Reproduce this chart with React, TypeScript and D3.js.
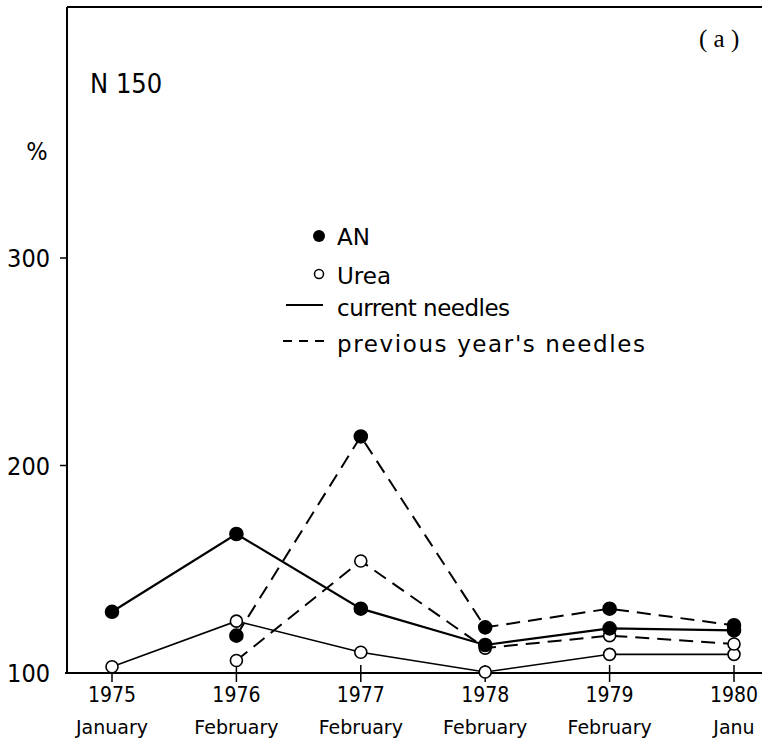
import React from "react";
import * as d3 from "d3";

// sampling dates
const years = ["1975", "1976", "1977", "1978", "1979", "1980"];
const months = ["January", "February", "February", "February", "February", "Janu"];
const yTicks = [100, 200, 300];

// % values, null = not measured
const anCurrent = [129.5, 167, 131, 113.5, 121.5, 120.5];
const anPrevious = [null, 118, 214, 122, 131, 123];
const ureaCurrent = [103, 125, 110, 100.5, 109, 109];
const ureaPrevious = [null, 106, 154, 112, 118, 114];

const W = 771, H = 739;
const cond = "'DejaVu Sans Condensed', 'DejaVu Sans', sans-serif";
const plain = "'DejaVu Sans', sans-serif";

function App() {
  const x = d3.scalePoint<string>().domain(years).range([112, 734]);
  const y = d3.scaleLinear().domain([100, 300]).range([673, 258]);
  const axisX = 67, axisTop = 7, axisRight = 762;

  const line = d3.line<number | null>()
    .defined(d => d != null)
    .x((d, i) => x(years[i]) as number)
    .y(d => y(d as number));

  const series = [
    { vals: ureaCurrent, dash: null, w: 1.6, filled: false },
    { vals: ureaPrevious, dash: "14,8", w: 2, filled: false },
    { vals: anPrevious, dash: "14,8", w: 2, filled: true },
    { vals: anCurrent, dash: null, w: 2.2, filled: true },
  ];

  return (
    <svg width={W} height={H} style={{ position: "absolute", left: 0, top: 0, background: "#fff" }}>
      {/* frame */}
      <line x1={axisX} y1={axisTop} x2={axisRight} y2={axisTop} stroke="#000" strokeWidth={2} />
      <line x1={axisX} y1={axisTop} x2={axisX} y2={y(100)} stroke="#000" strokeWidth={2} />
      <line x1={axisX - 2} y1={y(100)} x2={axisRight} y2={y(100)} stroke="#000" strokeWidth={2} />

      {yTicks.map(t => (
        <g key={t}>
          {t > 100 && <line x1={axisX - 7} x2={axisX} y1={y(t)} y2={y(t)} stroke="#000" strokeWidth={1.5} />}
          <text x={50} y={y(t) + 9} textAnchor="end" fontFamily={cond} fontSize={25}>{t}</text>
        </g>
      ))}
      <text x={37} y={160} textAnchor="middle" fontFamily={cond} fontSize={25}>%</text>
      <text x={90} y={93} fontFamily={cond} fontSize={27}>N 150</text>
      <text x={699} y={47} fontFamily="'Liberation Serif', serif" fontSize={25}>( a )</text>

      {years.map((yr, i) => (
        <g key={yr} transform={`translate(${x(yr)},0)`}>
          <line y1={y(100) - 8} y2={y(100) + 9} stroke="#000" strokeWidth={1.5} />
          <text y={702} textAnchor="middle" fontFamily={cond} fontSize={21}>{yr}</text>
          <text y={734} textAnchor="middle" fontFamily={plain} fontSize={19}>{months[i]}</text>
        </g>
      ))}

      {series.map((s, k) => (
        <path key={k} d={line(s.vals) || ""} fill="none" stroke="#000"
          strokeWidth={s.w} strokeDasharray={s.dash || undefined} />
      ))}
      {series.map((s, k) => s.vals.map((v, i) => v == null ? null : (
        <circle key={`${k}-${i}`} cx={x(years[i])} cy={y(v)} r={s.filled ? 6.5 : 6}
          fill={s.filled ? "#000" : "#fff"} stroke="#000" strokeWidth={1.6} />
      )))}

      {/* legend */}
      <g fontFamily={plain} fontSize={23}>
        <circle cx={319} cy={236} r={6} fill="#000" />
        <text x={337} y={245}>AN</text>
        <circle cx={319} cy={274} r={4.5} fill="#fff" stroke="#000" strokeWidth={1.5} />
        <text x={337} y={284}>Urea</text>
        <line x1={286} x2={323} y1={305} y2={305} stroke="#000" strokeWidth={1.8} />
        <text x={337} y={316} textLength={173}>current needles</text>
        <line x1={283} x2={327} y1={341} y2={341} stroke="#000" strokeWidth={1.8} strokeDasharray="9,7" />
        <text x={337} y={352} textLength={308}>previous year's needles</text>
      </g>
    </svg>
  );
}

export default App;
